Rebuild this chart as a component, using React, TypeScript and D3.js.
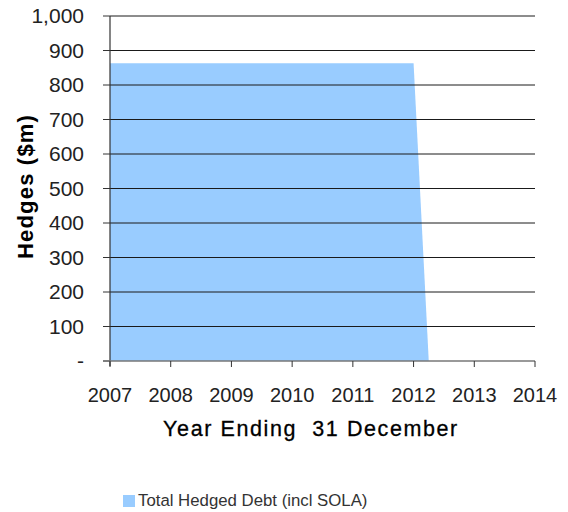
import React from "react";
import * as d3 from "d3";

const years = [2007, 2012, 2012.25];
const hedged = [863, 863, 0];
const xTicks = [2007, 2008, 2009, 2010, 2011, 2012, 2013, 2014];
const yTicks = [0, 100, 200, 300, 400, 500, 600, 700, 800, 900, 1000];
const seriesName = "Total Hedged Debt (incl SOLA)";
const yTitle = "Hedges ($m)";
const xTitle = "Year Ending  31 December";

const W = 568, H = 512;
const M = { left: 110, right: 33, top: 16, bottom: 151 };

export default function App() {
  const x = d3.scaleLinear().domain([2007, 2014]).range([M.left, W - M.right]);
  const y = d3.scaleLinear().domain([0, 1000]).range([H - M.bottom, M.top]);
  const data = years.map((yr, i) => ({ yr, v: hedged[i] }));
  const area = d3.area<{ yr: number; v: number }>()
    .x(d => x(d.yr)).y0(y(0)).y1(d => y(d.v));
  const font = "'Liberation Sans', Arial, Helvetica, sans-serif";
  const fmt = (v: number) => (v === 0 ? "-" : d3.format(",")(v));
  return (
    <svg width={W} height={H} style={{ position: "absolute", left: 0, top: 0, background: "#fff" }} fontFamily={font}>
      <path d={area(data) || ""} fill="#99CCFF" />
      {yTicks.filter(t => t > 0).map(t => (
        <line key={"g" + t} x1={x(2007)} x2={x(2014)} y1={y(t)} y2={y(t)} stroke="#1a1a1a" strokeWidth={1} />
      ))}
      {yTicks.map(t => (
        <g key={"y" + t}>
          <line x1={x(2007) - 7} x2={x(2007)} y1={y(t)} y2={y(t)} stroke="#333" strokeWidth={1} />
          <text x={84} y={y(t)} dy="0.35em" textAnchor="end" fontSize={21} fill="#222">{fmt(t)}</text>
        </g>
      ))}
      <line x1={x(2007)} x2={x(2007)} y1={y(1000)} y2={y(0) + 5} stroke="#333" strokeWidth={1.2} />
      <line x1={x(2007) - 7} x2={x(2014)} y1={y(0)} y2={y(0)} stroke="#777" strokeWidth={1.5} />
      {xTicks.map(t => (
        <g key={"x" + t}>
          <line x1={x(t)} x2={x(t)} y1={y(0)} y2={y(0) + 6} stroke="#333" strokeWidth={1} />
          <text x={x(t)} y={y(0) + 41} textAnchor="middle" fontSize={20} fill="#222">{t}</text>
        </g>
      ))}
      <text transform={`translate(33,186.5) rotate(-90)`} textAnchor="middle" fontSize={22} fontWeight="bold" letterSpacing={1.2} fill="#000">{yTitle}</text>
      <text x={311} y={436} textAnchor="middle" fontSize={21.5} fontWeight={500} letterSpacing={1.6} stroke="#000" strokeWidth={0.3} fill="#000" style={{ whiteSpace: "pre" }}>{xTitle}</text>
      <rect x={123} y={495} width={12} height={12} fill="#99CCFF" />
      <text x={138} y={506} fontSize={16.8} fill="#333">{seriesName}</text>
    </svg>
  );
}
